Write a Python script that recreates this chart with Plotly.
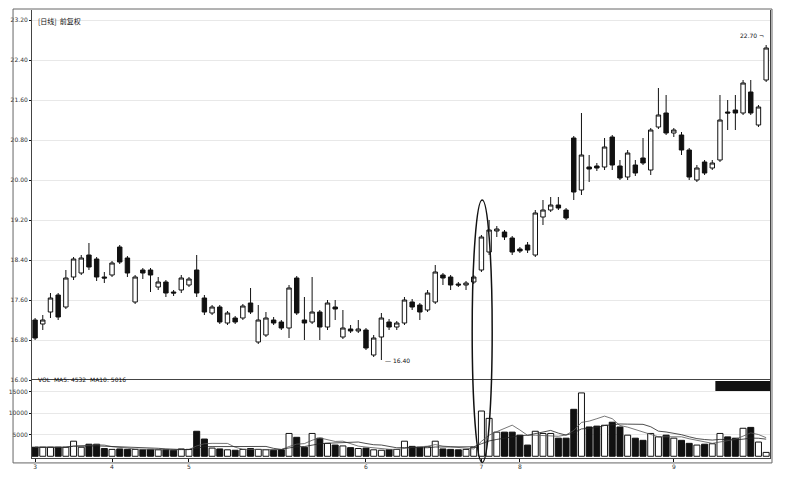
"""Daily candlestick chart with volume pane, written to out.html."""

import pandas as pd
import plotly.graph_objects as go

# --- data --------------------------------------------------------------------
opens = [
    17.20, 17.12, 17.36, 17.70, 17.46, 18.06, 18.14, 18.50, 18.42, 18.06,
    18.10, 18.66, 18.44, 17.56, 18.20, 18.20, 17.86, 17.96, 17.76, 17.80,
    17.90, 18.20, 17.64, 17.34, 17.46, 17.14, 17.24, 17.24, 17.54, 16.76,
    16.90, 17.20, 17.16, 17.04, 18.04, 17.20, 17.16, 17.36, 17.06, 17.46,
    16.86, 17.02, 16.98, 17.00, 16.50, 16.86, 17.16, 17.06, 17.14, 17.56,
    17.50, 17.40, 17.56, 18.10, 18.06, 17.92, 17.90, 17.96, 18.20, 18.56,
    18.98, 18.96, 18.84, 18.62, 18.70, 18.50, 19.26, 19.40, 19.50, 19.40,
    20.84, 19.80, 20.26, 20.28, 20.26, 20.86, 20.28, 20.06, 20.30, 20.44,
    20.20, 21.06, 21.34, 20.94, 20.90, 20.60, 20.00, 20.36, 20.24, 20.40,
    21.36, 21.40, 21.34, 21.76, 21.10, 22.00,
]
highs = [
    17.24, 17.30, 17.74, 17.74, 18.20, 18.46, 18.50, 18.74, 18.46, 18.16,
    18.38, 18.70, 18.48, 18.10, 18.24, 18.24, 18.06, 18.00, 17.80, 18.10,
    18.06, 18.50, 17.70, 17.50, 17.50, 17.38, 17.28, 17.52, 17.84, 17.50,
    17.36, 17.26, 17.20, 17.90, 18.08, 17.66, 18.06, 17.40, 17.60, 17.60,
    17.40, 17.10, 17.20, 17.04, 16.90, 17.34, 17.22, 17.18, 17.66, 17.62,
    17.54, 17.80, 18.30, 18.14, 18.10, 17.96, 17.98, 18.10, 18.90, 19.20,
    19.08, 19.00, 18.88, 18.66, 18.76, 19.40, 19.60, 19.66, 19.66, 19.44,
    20.88, 21.34, 20.50, 20.34, 20.84, 20.90, 20.40, 20.60, 20.40, 20.84,
    21.04, 21.84, 21.70, 21.04, 20.96, 20.64, 20.30, 20.40, 20.40, 21.70,
    21.60, 21.70, 22.00, 22.00, 21.50, 22.70,
]
lows = [
    16.80, 17.00, 17.24, 17.20, 17.42, 18.00, 18.10, 18.20, 17.98, 17.94,
    18.06, 18.32, 18.06, 17.52, 18.02, 17.76, 17.80, 17.66, 17.68, 17.74,
    17.86, 17.66, 17.30, 17.30, 17.12, 17.10, 17.12, 17.20, 17.32, 16.72,
    16.86, 17.10, 17.00, 16.84, 17.30, 16.80, 17.12, 16.80, 17.00, 17.20,
    16.82, 16.94, 16.94, 16.60, 16.46, 16.40, 17.00, 17.00, 17.10, 17.40,
    17.20, 17.36, 17.52, 17.90, 17.80, 17.86, 17.80, 17.92, 18.16, 18.50,
    18.86, 18.80, 18.50, 18.54, 18.54, 18.46, 19.10, 19.36, 19.40, 19.20,
    19.60, 19.70, 19.96, 20.18, 20.20, 20.20, 20.00, 20.00, 20.08, 20.30,
    20.10, 21.02, 20.90, 20.86, 20.50, 20.00, 19.96, 20.10, 20.20, 20.36,
    21.00, 21.00, 21.30, 21.30, 21.06, 21.96,
]
closes = [
    16.84, 17.20, 17.64, 17.26, 18.04, 18.42, 18.44, 18.26, 18.06, 18.04,
    18.34, 18.36, 18.14, 18.06, 18.14, 18.10, 17.96, 17.74, 17.74, 18.04,
    18.02, 17.74, 17.36, 17.46, 17.16, 17.34, 17.16, 17.48, 17.36, 17.20,
    17.24, 17.14, 17.04, 17.84, 17.34, 17.14, 17.36, 17.06, 17.54, 17.42,
    17.04, 16.98, 17.02, 16.64, 16.84, 17.24, 17.06, 17.14, 17.60, 17.46,
    17.36, 17.74, 18.16, 18.04, 17.90, 17.90, 17.94, 18.06, 18.86, 19.00,
    19.02, 18.86, 18.56, 18.58, 18.60, 19.34, 19.40, 19.50, 19.44, 19.24,
    19.76, 20.50, 20.22, 20.24, 20.66, 20.30, 20.04, 20.54, 20.14, 20.34,
    21.00, 21.30, 20.94, 21.00, 20.60, 20.06, 20.24, 20.14, 20.34, 21.20,
    21.34, 21.34, 21.94, 21.34, 21.46, 22.64,
]
volumes = [
    2100, 2100, 2100, 2100, 2100, 3500, 2100, 2800, 2800, 1800,
    1600, 1700, 1600, 1600, 1500, 1600, 1500, 1500, 1400, 1700,
    1600, 5800, 4000, 1900, 1700, 1500, 1400, 1600, 1800, 1600,
    1500, 1400, 1500, 5300, 4400, 2100, 5300, 4200, 3000, 2600,
    2400, 2000, 1800, 1900, 1500, 1400, 1500, 1600, 3500, 2300,
    2100, 2200, 3500, 1700, 1600, 1500, 1600, 2100, 10500, 8800,
    5600, 5600, 5600, 4900, 2600, 5800, 5300, 5300, 4200, 4200,
    10900, 14700, 6800, 7000, 7200, 7900, 6800, 4900, 4200, 3700,
    5300, 4500, 4900, 4200, 3700, 3000, 2600, 2800, 2900, 5300,
    4500, 4200, 6500, 6700, 3300, 900,
]
price_ticks = [16.0, 16.8, 17.6, 18.4, 19.2, 20.0, 20.8, 21.6, 22.4, 23.2]
volume_ticks = [5000, 10000, 15000]
month_ticks = [0, 10, 20, 43, 58, 63, 83]
month_labels = ["3", "4", "5", "6", "7", "8", "9"]

INK = "#111111"
GRID = "#e8e8e8"
FONT = dict(family="DejaVu Sans", size=6, color="#333333")


def build_figure():
    df = pd.DataFrame(dict(o=opens, h=highs, l=lows, c=closes, v=volumes))
    x = list(range(len(df)))
    up = df["c"] >= df["o"]
    ma5 = df["v"].rolling(5, min_periods=1).mean()
    ma10 = df["v"].rolling(10, min_periods=1).mean()

    fig = go.Figure()
    fig.add_trace(go.Candlestick(
        x=x, open=df["o"], high=df["h"], low=df["l"], close=df["c"],
        increasing=dict(fillcolor="white", line=dict(color=INK, width=1)),
        decreasing=dict(fillcolor=INK, line=dict(color=INK, width=1)),
        whiskerwidth=0, yaxis="y", showlegend=False,
    ))
    fig.add_trace(go.Bar(
        x=x, y=df["v"], yaxis="y2", width=0.78,
        marker=dict(color=["white" if u else INK for u in up],
                    line=dict(color=INK, width=1)),
        showlegend=False,
    ))
    for ma, col in ((ma5, "#555555"), (ma10, "#222222")):
        fig.add_trace(go.Scatter(x=x, y=ma, yaxis="y2", mode="lines",
                                 line=dict(color=col, width=0.8), showlegend=False))

    # the page body adds an 8px offset, so the figure is drawn 8px smaller
    split = (458 - 380) / 448
    fig.update_layout(
        width=778, height=470,
        margin=dict(l=24, r=16, t=2, b=20),
        paper_bgcolor="white", plot_bgcolor="white",
        font=FONT,
        boxgap=0.18,
        xaxis=dict(range=[-0.4, 95.5], tickvals=month_ticks, ticktext=month_labels,
                   ticks="outside", ticklen=3, tickcolor=INK, showgrid=False,
                   showline=True, linecolor="#444444", mirror=True, automargin=False,
                   rangeslider=dict(visible=False), anchor="y2"),
        yaxis=dict(domain=[split, 1], range=[16.0, 23.4], tickvals=price_ticks,
                   tickformat=".2f", ticks="outside", ticklen=2, tickcolor=INK,
                   gridcolor=GRID, showline=True, linecolor="#444444", mirror=True,
                   zeroline=False, automargin=False),
        yaxis2=dict(domain=[0, split], range=[-400, 17700], tickvals=volume_ticks,
                    tickformat="d", ticks="outside", ticklen=2, tickcolor=INK,
                    gridcolor=GRID, showline=True, linecolor="#444444", mirror=True,
                    zeroline=False, automargin=False),
        bargap=0.2,
    )

    # outer frame
    fig.add_shape(type="rect", xref="paper", yref="paper",
                  x0=-0.0257, x1=1.0027, y0=-0.011, y1=1.0022,
                  line=dict(color="#666666", width=1))
    # selection ellipse around the breakout candles
    fig.add_shape(type="circle", xref="x", yref="paper",
                  x0=56.8, x1=59.4, y0=-0.01, y1=(458 - 200) / 448,
                  line=dict(color=INK, width=1.5))
    # black block in volume pane header
    fig.add_shape(type="rect", xref="x", yref="paper",
                  x0=88.4, x1=95.5, y0=(458 - 391) / 448, y1=(458 - 381) / 448,
                  fillcolor=INK, line=dict(width=0))

    fig.add_annotation(xref="paper", yref="paper", x=0.005, y=(458 - 14) / 448,
                       text="[日线]  前复权", showarrow=False, xanchor="left",
                       font=dict(family="Noto Sans CJK SC", size=7, color=INK))
    fig.add_annotation(xref="paper", yref="paper", x=0.005, y=(458 - 385) / 448,
                       text="VOL  MA5: 4532  MA10: 5016", showarrow=False, xanchor="left",
                       font=dict(family="DejaVu Sans", size=6, color=INK))
    fig.add_annotation(x=45, y=lows[45], text="— 16.40", showarrow=False,
                       xanchor="left", yanchor="middle", xshift=2,
                       font=dict(family="DejaVu Sans", size=6, color=INK))
    fig.add_annotation(x=95, y=highs[95], text="22.70 ¬", showarrow=False,
                       xanchor="right", yanchor="bottom", yshift=4,
                       font=dict(family="DejaVu Sans", size=6, color=INK))
    return fig


def main() -> None:
    fig = build_figure()
    fig.write_html("out.html")


if __name__ == "__main__":
    main()
